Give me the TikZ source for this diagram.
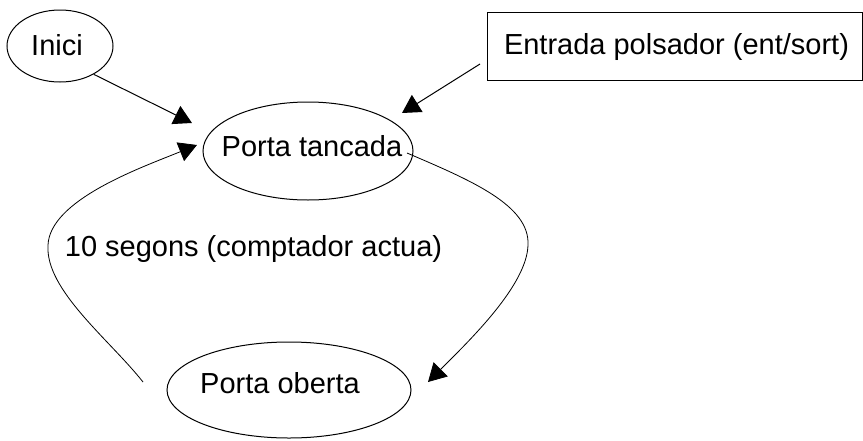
\documentclass[tikz,border=0pt]{standalone}
\usepackage{fontspec}
\setmainfont{Liberation Sans}
\usetikzlibrary{shapes.geometric,arrows.meta}
\begin{document}
\begin{tikzpicture}[x=1pt,y=-1pt,
  every node/.style={inner sep=0pt},
  txt/.style={font=\fontsize{29}{34}\selectfont, inner sep=0pt},
  state/.style={draw, ellipse, line width=1pt},
  box/.style={draw, rectangle, line width=1pt},
  conn/.style={line width=1pt, -{Triangle[length=18pt,width=20pt]}},
  curv/.style={line width=0.8pt, -{Triangle[length=18pt,width=20pt]}}]
\useasboundingbox (0,0) rectangle (863,440);
\node[state, minimum width=106pt, minimum height=72pt,
  label={[txt, xshift=-3pt, yshift=1pt]center:Inici}] (inici) at (60,46) {};
\node[box, minimum width=375pt, minimum height=68pt,
  label={[txt, xshift=2pt, yshift=-1pt]center:Entrada polsador (ent/sort)}] (entrada) at (674.5,46) {};
\node[state, minimum width=210pt, minimum height=98pt,
  label={[txt, xshift=4pt, yshift=5pt]center:Porta tancada}] (tancada) at (308,151) {};
\node[state, minimum width=244pt, minimum height=96pt,
  label={[txt, xshift=-9pt, yshift=7pt]center:Porta oberta}] (oberta) at (289,390) {};
\node[txt] (lbl) at (253.5,249) {10 segons (comptador actua)};
\coordinate (t1) at (192,123);
\coordinate (e0) at (480,64);
\coordinate (t2) at (402,113);
\coordinate (r0) at (407,153);
\coordinate (t3) at (428,382);
\coordinate (l0) at (143,382);
\coordinate (t4) at (197,145);
\draw[conn] (inici.-40) -- (t1);
\draw[conn] (e0) -- (t2);
\draw[curv] (r0) .. controls (470,180) and (530,205) .. (528,245) .. controls (527,285) and (470,340) .. (t3);
\draw[curv] (l0) .. controls (110,340) and (45,290) .. (48,245) .. controls (50,200) and (140,168) .. (t4);
\end{tikzpicture}
\end{document}
